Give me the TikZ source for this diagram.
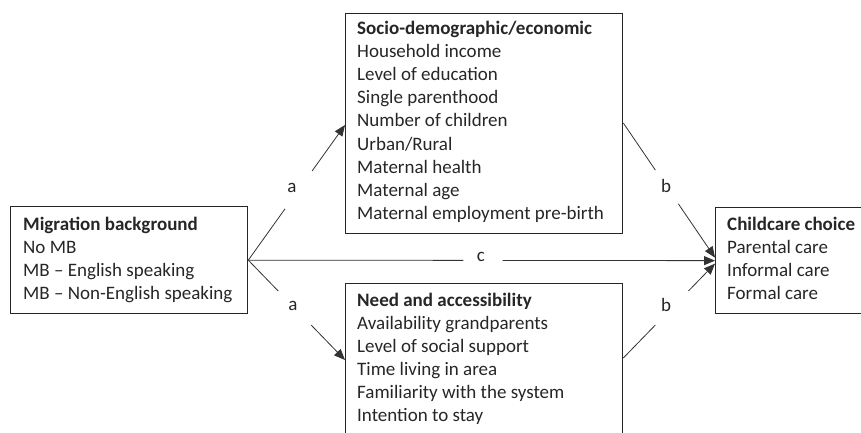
\documentclass[tikz,border=0pt]{standalone}
\usepackage{fontspec}
\setmainfont{Carlito}
\usetikzlibrary{arrows.meta,calc}
\begin{document}
\begin{tikzpicture}[x=1pt,y=-1pt,
  box/.style={draw=black!85,line width=1.3pt,rectangle,inner sep=0pt,anchor=north west},
  txt/.style={anchor=base west,inner sep=0pt,font=\fontsize{19}{22}\selectfont,text=black!85},
  bold/.style={txt,font=\fontsize{19}{22}\selectfont\bfseries},
  lab/.style={inner sep=0pt,font=\fontsize{19}{22}\selectfont,text=black!85},
  conn/.style={draw=black!80,line width=0.8pt},
  arr/.style={conn,-{Triangle[length=11pt,width=9pt]}}]
\useasboundingbox (0,0) rectangle (861,433);
\clip (0,0) rectangle (861,433);

% boxes
\node[box,minimum width=237pt,minimum height=107pt] (mig) at (10,206) {};
\node[box,minimum width=277pt,minimum height=220pt] (socio) at (345,13) {};
\node[box,minimum width=277pt,minimum height=170pt] (need) at (345,283) {};
\node[box,minimum width=150pt,minimum height=106pt] (care) at (715,207) {};

% box contents
\node[bold] (mig-0) at (23,230) {Migration background};
\foreach \t [count=\i] in {No MB,MB – English speaking,MB – Non-English speaking}
  \node[txt] (mig-\i) at (23,230+23.3*\i) {\t};

\node[bold] (socio-0) at (357,35) {Socio-demographic/economic};
\foreach \t [count=\i] in {Household income,Level of education,Single parenthood,Number of children,Urban/Rural,Maternal health,Maternal age,Maternal employment pre-birth}
  \node[txt] (socio-\i) at (357,35+23*\i) {\t};

\node[bold] (need-0) at (357,306) {Need and accessibility};
\foreach \t [count=\i] in {Availability grandparents,Level of social support,Time living in area,Familiarity with the system,Intention to stay}
  \node[txt] (need-\i) at (357,306+23*\i) {\t};

\node[bold] (care-0) at (727,230) {Childcare choice};
\foreach \t [count=\i] in {Parental care,Informal care,Formal care}
  \node[txt] (care-\i) at (727,230+23.3*\i) {\t};

% connector end points
\coordinate (src) at (mig.east);
\coordinate (ta) at (socio.west |- 0,125);
\coordinate (ba) at (need.west |- 0,360);
\coordinate (tb) at (socio.east |- 0,123);
\coordinate (bb) at (need.east |- 0,358);
\coordinate (t1) at ($(care.west)+(0,-3)$);
\coordinate (t2) at (care.west);
\coordinate (t3) at ($(care.west)+(0,3)$);

% path a (upper)
\draw[conn] (src) -- ($(src)!0.38!(ta)$);
\draw[arr] ($(src)!0.66!(ta)$) -- (ta);
\node[lab] (la1) at (292,188) {a};
% path a (lower)
\draw[conn] (src) -- ($(src)!0.31!(ba)$);
\draw[arr] ($(src)!0.65!(ba)$) -- (ba);
\node[lab] (la2) at (293,306) {a};
% path c
\draw[conn] (src) -- ($(src)!0.461!(t2)$);
\draw[arr] ($(src)!0.545!(t2)$) -- (t2);
\node[lab] (lc) at (481,257) {c};
% path b (upper)
\draw[conn] (tb) -- ($(tb)!0.35!(t1)$);
\draw[arr] ($(tb)!0.60!(t1)$) -- (t1);
\node[lab] (lb1) at (666,186) {b};
% path b (lower)
\draw[conn] (bb) -- ($(bb)!0.35!(t3)$);
\draw[arr] ($(bb)!0.71!(t3)$) -- (t3);
\node[lab] (lb2) at (666,305) {b};
\end{tikzpicture}
\end{document}
